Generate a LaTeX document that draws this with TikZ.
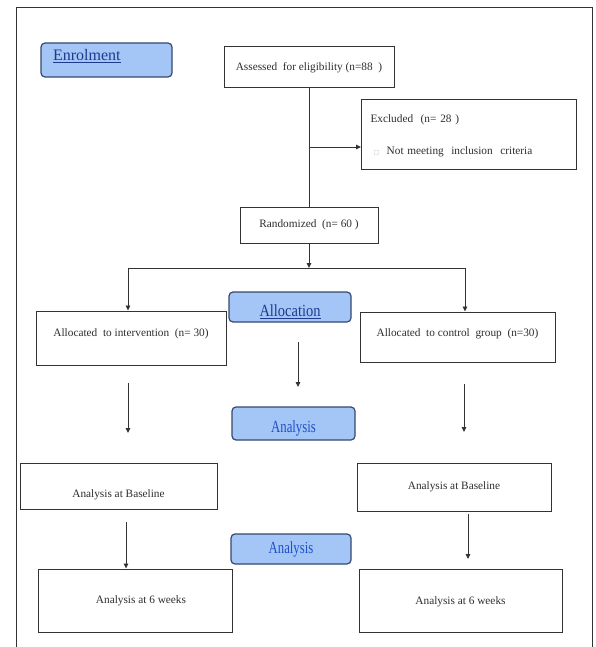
\documentclass[tikz,border=0pt]{standalone}
\usepackage{fontspec}
\usepackage{graphicx}
\setmainfont{Liberation Serif}
\newfontfamily\dejavu{DejaVu Sans}
\usetikzlibrary{arrows.meta}
\definecolor{bluefill}{HTML}{A3C6F7}
\definecolor{blueborder}{HTML}{34496F}
\definecolor{navytxt}{HTML}{1E3A8E}
\definecolor{brighttxt}{HTML}{1F4FC8}
\definecolor{linec}{HTML}{333333}
\definecolor{txtc}{HTML}{2E2E2E}
\newcommand{\shiftv}[2]{\raisebox{#1}[8pt][2.5pt]{#2}}
\tikzset{
  plainbox/.style={draw=linec, line width=1pt, rectangle, inner sep=0pt,
    font=\fontsize{11.3}{13}\selectfont, text=txtc},
  bluebox/.style={draw=blueborder, line width=1.2pt, fill=bluefill,
    rounded corners=4pt, inner sep=0pt},
  arr/.style={draw=linec, line width=0.9pt, -{Triangle[width=4.5pt,length=5pt]}},
  conn/.style={draw=linec, line width=0.9pt},
  frameline/.style={draw=linec, line width=1pt}
}
\begin{document}
\begin{tikzpicture}[x=1pt,y=-1pt]
\useasboundingbox (0,0) rectangle (595,647);
\fill[white] (0,0) rectangle (595,647);
% outer frame
\coordinate (fbl) at (16,647);
\coordinate (ftl) at (16,8);
\coordinate (ftr) at (592,8);
\coordinate (fbr) at (592,647);
\draw[frameline] (fbl) -- (ftl) -- (ftr) -- (fbr);

% blue labels
\node[bluebox, minimum width=131pt, minimum height=34pt, text width=107pt,
  inner xsep=12pt, align=left, text=navytxt, font=\fontsize{16}{18}\selectfont]
  (enrol) at (106.5,60) {\shiftv{2pt}{\underline{Enrolment}}};
\node[bluebox, minimum width=122pt, minimum height=30pt, text=navytxt,
  font=\fontsize{17}{19}\selectfont]
  (alloc) at (290,307) {\shiftv{-7pt}{\scalebox{0.85}[1]{\underline{Allocation}}}};
\node[bluebox, minimum width=123pt, minimum height=33pt, text=brighttxt,
  font=\fontsize{17}{19}\selectfont]
  (anaA) at (293.5,423.5) {\shiftv{-6pt}{\scalebox{0.75}[1]{Analysis}}};
\node[bluebox, minimum width=120pt, minimum height=30pt, text=brighttxt,
  font=\fontsize{17}{19}\selectfont]
  (anaB) at (291,549) {\shiftv{-2pt}{\scalebox{0.75}[1]{Analysis}}};

% flow boxes
\node[plainbox, minimum width=170pt, minimum height=41pt]
  (assess) at (309,67.5) {Assessed~ for eligibility (n=88~ )};
\node[plainbox, minimum width=210pt, minimum height=70pt, text width=197pt,
  inner xsep=9pt, align=left]
  (excl) at (469,135) {\shiftv{-1pt}{Excluded~ (n=~28 )}\\[20pt]\hspace{3pt}{\color{gray!50}\dejavu\fontsize{6}{6}\selectfont □}~ Not meeting~ inclusion~ criteria};
\node[plainbox, minimum width=138pt, minimum height=36pt]
  (rand) at (309,225) {Randomized~ (n=~60 )};
\node[plainbox, minimum width=190pt, minimum height=54pt]
  (allocL) at (131,338) {\shiftv{4pt}{Allocated~ to intervention~ (n=~30)}};
\node[plainbox, minimum width=195pt, minimum height=50pt]
  (allocR) at (457.5,337) {\shiftv{3pt}{Allocated~ to control~ group~ (n=30)}};
\node[plainbox, minimum width=197pt, minimum height=46pt]
  (baseL) at (118.5,486) {\shiftv{-9pt}{Analysis at Baseline}};
\node[plainbox, minimum width=194pt, minimum height=48pt]
  (baseR) at (454,487) {Analysis at Baseline};
\node[plainbox, minimum width=194pt, minimum height=63pt]
  (wkL) at (135,600.5) {\hspace{12pt}Analysis at 6 weeks};
\node[plainbox, minimum width=203pt, minimum height=63pt]
  (wkR) at (460.5,600.5) {\shiftv{-1pt}{Analysis at 6 weeks}};

% connectors
\draw[conn] (assess.south) -- (rand.north);
\coordinate (bx) at (309,147);
\draw[arr] (bx) -- (bx -| excl.west);
\coordinate (jn) at (309,268);
\coordinate (jl) at (128,268);
\coordinate (jr) at (465,268);
\draw[arr] (rand.south) -- (jn);
\draw[conn] (jl) -- (jr);
\draw[arr] (jl) -- (jl |- allocL.north);
\draw[arr] (jr) -- (jr |- allocR.north);

\coordinate (m1) at (298,342);
\coordinate (m2) at (298,387);
\draw[arr] (m1) -- (m2);
\coordinate (l1) at (128,383);
\coordinate (l2) at (128,433);
\draw[arr] (l1) -- (l2);
\coordinate (r1) at (464,384);
\coordinate (r2) at (464,432);
\draw[arr] (r1) -- (r2);

\coordinate (l3) at (126,522);
\draw[arr] (l3) -- (l3 |- wkL.north);
\coordinate (r3) at (468,514);
\coordinate (r4) at (468,559);
\draw[arr] (r3) -- (r4);
\end{tikzpicture}
\end{document}
